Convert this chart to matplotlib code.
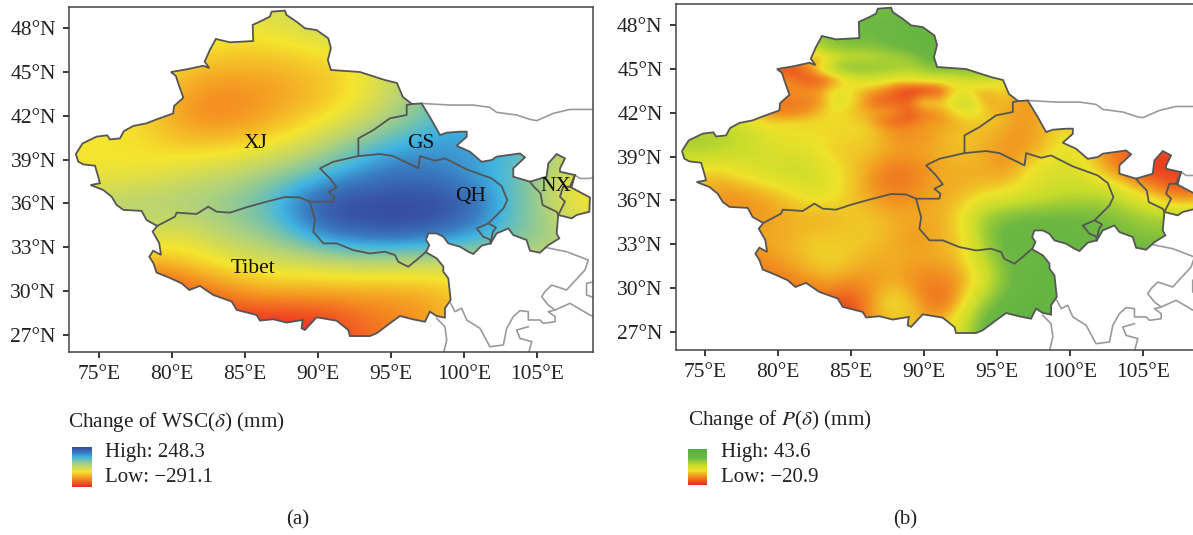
import numpy as np
import matplotlib
matplotlib.use('Agg')
import matplotlib.pyplot as plt
from matplotlib.colors import LinearSegmentedColormap, Normalize
from matplotlib.cm import ScalarMappable
from matplotlib.patches import Polygon

plt.rcParams['font.family'] = ['Liberation Serif', 'DejaVu Serif']
plt.rcParams['mathtext.fontset'] = 'stix'

W, H = 1193, 535

# Region outline, lon/lat, clockwise from the western tip
outer_lon = [73.42, 73.88, 74.84, 75.57, 75.75, 76.44, 76.71, 77.35, 78.26, 78.95, 80.09, 80.14, 80.66, 80.78, 80.43,
             80.27, 79.93, 81.0, 82.15, 82.56, 82.24, 82.6, 83.01, 83.97, 85.57, 85.53, 86.26, 86.71, 86.83, 87.74,
             87.85, 88.54, 89.11, 89.91, 90.71, 90.89, 90.68, 90.89, 92.88, 94.59, 95.41, 95.82, 96.44,
             97.1, 97.79, 98.36, 98.82, 99.73, 100.19, 100.19, 99.5, 100.41, 101.21, 101.9, 102.24, 103.84, 104.18,
             103.38, 103.38, 104.52, 105.66, 105.78, 106.35, 106.92, 106.58, 106.58, 107.6, 107.26, 108.63, 108.59,
             107.72, 107.38, 106.46, 106.35, 106.53, 105.78, 105.21, 104.52, 104.29, 103.38, 103.04, 102.24, 101.83,
             101.21, 100.64, 100.3, 99.73, 98.93, 98.59, 98.13, 97.56, 97.4, 97.63, 97.4,
             98.13, 98.59, 98.59, 98.93, 99.09, 98.7, 98.7, 98.13, 97.67, 97.33, 96.53, 95.62, 94.93, 94.02, 93.56,
             92.19, 92.08, 91.28, 89.91, 89.11, 88.88, 88.95, 87.85, 86.94, 86.03, 85.8, 84.43, 84.09, 82.83, 81.92,
             81.19, 80.66, 79.75, 78.95, 78.73, 78.45, 78.72, 79.25, 79.13, 78.68, 78.99,
             78.26, 77.92, 76.67, 76.21, 75.87, 75.3, 74.43, 75.07, 74.95, 74.73, 73.93, 73.58]
outer_lat = [39.38, 40.11, 40.57, 40.66, 40.38, 40.45, 40.95, 41.3, 41.48, 41.75, 42.16, 42.66, 43.12, 43.23, 44.22,
             44.72, 44.99, 45.17, 45.42, 45.26, 45.7, 46.5, 47.25, 47.02, 47.11, 48.21, 48.55, 48.78, 49.12, 49.19,
             48.89, 48.43, 47.98, 47.86, 47.29, 46.63, 45.81, 45.13, 44.99, 44.44, 44.24, 43.28, 42.8,
             42.84, 41.7, 40.68, 40.84, 40.91, 40.91, 40.56, 39.95, 39.54, 38.85, 38.97, 39.2, 39.42, 39.15,
             38.4, 37.83, 37.49, 37.83, 38.74, 39.38, 39.08, 38.4, 38.17, 37.94, 37.14, 36.41, 35.43,
             35.21, 34.98, 35.21, 33.95, 33.61, 33.15, 32.63, 32.77, 33.5, 33.84, 34.29, 33.95, 33.27,
             33.11, 32.54, 32.7, 33.04, 33.27, 33.72, 33.95, 33.95, 33.5, 33.15, 32.66,
             32.25, 31.68, 31.33, 30.88, 29.4, 28.83, 28.19, 28.3, 28.6, 27.91, 28.07, 28.3, 27.8, 27.12, 26.93,
             26.93, 27.34, 27.98, 28.21, 27.35, 27.46, 28.03, 27.85, 28.08, 27.99, 28.37, 28.72, 29.29, 29.74, 30.36,
             30.08, 30.54, 30.95, 31.27, 31.91, 32.36, 32.77, 32.48, 33.28, 34.07, 34.46,
             34.87, 35.49, 35.56, 35.9, 36.46, 36.92, 37.26, 37.38, 37.83, 38.58, 38.67, 38.86]

# Inner province borders
xj_tibet_lon = [78.99, 80.21, 80.32, 81.69, 82.49, 83.06, 83.97, 85.11, 86.26, 87.74, 88.77, 89.45]
xj_tibet_lat = [34.46, 35.1, 35.37, 35.28, 35.78, 35.44, 35.37, 35.74, 36.06, 36.44, 36.41, 36.12]
qh_north_lon = [89.45, 91.05, 91.12, 90.71, 91.28, 90.82, 90.14, 91.05, 92.77, 94.25, 95.16, 96.88, 96.99, 98.02, 98.7,
                100.19, 101.9, 102.58, 102.97, 102.7, 102.13, 101.67, 102.19, 101.97, 101.83]
qh_north_lat = [36.12, 36.12, 36.46, 36.8, 37.1, 37.71, 38.4, 38.85, 39.24, 39.38, 39.24, 38.4, 39.24, 38.92, 39.08,
                38.33, 37.71, 37.19, 36.23, 35.66, 35.09, 34.64, 34.36, 34.04, 33.27]
qh_south_lon = [97.4, 96.88, 96.19, 95.5, 95.28, 94.59, 93.56, 92.42, 91.28, 90.37, 89.68, 89.8, 89.45]
qh_south_lat = [32.7, 32.24, 31.67, 32.01, 32.47, 32.7, 32.58, 32.81, 33.27, 33.27, 34.07, 34.86, 36.12]
xj_gs_lon = [92.77, 92.77, 93.8, 94.93, 96.08, 96.08, 96.44]
xj_gs_lat = [39.24, 40.45, 41.02, 41.82, 42.05, 42.73, 42.8]
gs_inlet_lon = [101.67, 100.87, 101.33, 101.78, 101.83]
gs_inlet_lat = [34.64, 34.29, 33.72, 33.54, 33.27]
nx_west_lon = [104.52, 104.75, 105.25, 105.39, 106.35, 106.46]
nx_west_lat = [37.49, 37.19, 36.69, 35.89, 35.43, 35.21]
nx_east_lon = [106.46, 106.92, 106.58, 106.8, 107.38, 107.6]
nx_east_lat = [35.21, 36.12, 36.46, 37.14, 37.14, 37.94]

# Grey borders outside the region
grey_lons = [[97.1, 99.04, 100.64, 101.78, 102.24, 103.61, 104.52, 104.98, 106.12, 107.26, 109.2],
             [107.6, 107.95, 108.63, 109.2],
             [105.55, 107.03, 108.52, 108.29, 107.03, 106.01, 105.55, 105.32, 105.78, 106.24, 107.26, 108.63, 109.2],
             [99.09, 99.39, 99.84, 100.19, 101.1, 101.78, 102.7, 102.93, 103.38, 103.84, 104.41, 104.41, 105.21, 105.44,
              106.24, 106.24, 105.78, 106.24],
             [104.41, 103.61, 103.84, 104.64, 104.41],
             [98.13, 98.7, 98.82, 98.59],
             [109.2, 108.4, 108.4, 109.2]]
grey_lats = [[42.84, 42.73, 42.73, 42.57, 42.23, 42.05, 41.75, 41.66, 42.16, 42.43, 42.43],
             [37.94, 37.71, 37.71, 37.9],
             [33.0, 32.7, 32.13, 31.45, 30.08, 30.42, 29.97, 29.62, 29.05, 28.71, 29.17, 28.37, 28.1],
             [29.17, 28.6, 28.83, 28.03, 27.46, 26.2, 26.32, 27.46, 28.26, 28.67, 28.6, 28.03, 28.03, 27.8,
              27.91, 28.26, 28.6, 28.71],
             [27.57, 27.34, 26.77, 26.55, 25.7],
             [28.14, 27.57, 26.66, 25.7],
             [30.7, 30.54, 29.74, 29.45]]

# Field (a), 2 degree grid, on the legend's scale: 0 = Low, 10 = High
wsc_lons = [73, 75, 77, 79, 81, 83, 85, 87, 89, 91, 93, 95, 97, 99, 101, 103, 105, 107, 109]
wsc_lats = [50, 48, 46, 44, 42, 40, 38, 36, 34, 32, 30, 28, 26]
wsc_grid = [
    [4.5, 4.5, 4.5, 4.5, 4.5, 4.5, 4.5, 4.6, 4.8, 5, 5, 5, 5, 5, 5, 5, 5, 5, 5],
    [4.5, 4.5, 4.5, 4.5, 4.5, 4.2, 4.0, 4.3, 4.6, 5, 5, 5, 5, 5, 5, 5, 5, 5, 5],
    [4, 4, 4, 4, 3.6, 3.3, 3.2, 3.2, 3.4, 3.6, 4.2, 5, 5, 5, 5, 5, 5, 5, 5],
    [4, 4, 4, 3.5, 2.6, 2.2, 2.2, 2.4, 2.7, 3.2, 3.8, 4.8, 6, 6, 6, 6, 6, 6, 6],
    [4, 4, 3.8, 3, 2.2, 1.9, 2.1, 2.6, 3.1, 3.7, 4.5, 5.4, 6.4, 7.3, 7.3, 7, 6.5, 6, 6],
    [3.7, 3.7, 3.7, 3.5, 3.2, 3.2, 3.4, 3.9, 4.6, 5.5, 6.5, 7.4, 7.8, 8, 7.8, 7.5, 6.5, 5, 5],
    [4, 4, 4, 4.2, 4.6, 5, 5.4, 6, 6.6, 7.5, 8.3, 8.8, 8.8, 8.3, 7.7, 7, 6, 4.5, 4.2],
    [5, 5.2, 5.5, 5.6, 5.8, 6.0, 6.5, 7.5, 9, 10, 10, 10, 10, 10, 9, 7.2, 6, 4.0, 3.6],
    [5, 5, 5, 4.6, 4.5, 5.3, 5.8, 6.5, 7.8, 9, 9.5, 9.7, 9.5, 8.8, 8, 7, 6.2, 5.5, 5],
    [3, 3, 3, 3, 3.3, 3.8, 4.3, 4.6, 4.7, 5, 5.2, 5.2, 5, 5, 5, 5, 5, 5, 5],
    [0, 0, 0, 0.3, 1.2, 1.8, 2.4, 2.7, 2.7, 2.6, 2.6, 2.5, 2.6, 3, 3.5, 3.5, 3.5, 3.5, 3.5],
    [0, 0, 0, 0, 0, 0, 0.2, 0.1, 0.2, 0.6, 1.3, 1.8, 2.2, 3, 3, 3, 3, 3, 3],
    [0, 0, 0, 0, 0, 0, 0.2, 0.1, 0.2, 0.6, 1.3, 1.8, 2.2, 3, 3, 3, 3, 3, 3],
]

# Field (b), 1.5 degree grid, same kind of scale
prec_lons = [73, 74.5, 76, 77.5, 79, 80.5, 82, 83.5, 85, 86.5, 88, 89.5, 91, 92.5, 94, 95.5, 97, 98.5, 100, 101.5, 103,
             104.5, 106, 107.5, 109]
prec_lats = [50, 48.5, 47, 45.5, 44, 42.5, 41, 39.5, 38, 36.5, 35, 33.5, 32, 30.5, 29, 27.5, 26]
prec_grid = [
    [7, 7, 7, 7, 7, 7, 7, 7, 7, 7, 7, 7, 7, 7, 7, 7, 7, 7, 7, 7, 7, 7, 7, 7, 7],
    [7, 7, 7, 7, 7, 7, 7, 7, 7.5, 7.5, 7.5, 8, 8, 8, 8, 8, 8, 8, 8, 8, 8, 8, 8, 8, 8],
    [6, 6, 6, 6, 6, 6, 6, 7.5, 7.5, 7.5, 8, 8.5, 8.5, 8, 8, 8, 8, 8, 8, 8, 8, 8, 8, 8, 8],
    [3, 3, 3, 3, 3, 3, 3, 4.5, 6, 6, 6.5, 7, 7.5, 7.5, 7, 7, 7, 7, 7, 7, 7, 7, 7, 7, 7],
    [1, 1, 1, 1, 0.5, 0.5, 1, 1.5, 4, 3.5, 3, 3, 3, 4, 4, 3.5, 3, 3, 3, 3, 3, 3, 3, 3, 3],
    [3, 3, 3, 3, 2, 2, 2, 3, 4, 2.5, 2, 3, 3, 4, 3.5, 3, 2.5, 3, 3, 3, 3, 3, 3, 3, 3],
    [6, 6, 6, 5.5, 4.5, 4, 4, 4, 4, 3.5, 2, 2, 3, 3.5, 3.5, 3, 2.5, 3.5, 4, 3, 3, 3, 3, 3, 3],
    [6, 6.5, 6, 5.5, 5, 4.5, 4.5, 3.5, 3.5, 3.5, 3, 3, 3, 3.5, 3, 2.5, 2.5, 3.5, 4.5, 3, 1.5, 1, 0.5, 1, 1.5],
    [4, 3.5, 3.5, 4.5, 5, 5.5, 5.5, 4.5, 3.5, 2.5, 1.5, 2, 3, 3, 3, 2.5, 4, 5, 5, 4, 2.5, 1, 0, 0.5, 1],
    [3, 3, 2.5, 2.5, 3, 3.5, 4.5, 4.5, 3.5, 2.5, 2, 2.5, 3, 3, 3.5, 4, 4.5, 5, 5.5, 5.5, 5.5, 4, 3, 1, 2],
    [3, 3, 2.5, 2.5, 2.5, 3, 3, 3, 3.5, 3.5, 3, 3, 3, 4, 6.5, 7, 7.5, 7.5, 7.5, 7.5, 7, 6.5, 6, 6, 6],
    [3, 3, 3, 3, 3, 3, 3.5, 3.5, 3.5, 3.5, 3, 2.5, 3, 3.5, 6.5, 8, 8, 8, 8, 7.5, 7.5, 7, 7, 7, 7],
    [2, 2, 2, 2, 2.5, 3, 3.5, 4, 3.5, 3, 3, 3, 3, 3.5, 5.5, 7.5, 8, 8, 8, 8, 8, 8, 8, 8, 8],
    [1.5, 1.5, 1.5, 1.5, 1.5, 2, 2.5, 3, 2.5, 2.5, 3, 2, 2, 2.5, 4.5, 7, 8, 8, 8, 8, 8, 8, 8, 8, 8],
    [1, 1, 1, 1, 1, 1, 1.5, 1, 0.5, 3, 4.5, 3, 1, 3.5, 6.5, 8, 8.5, 8.5, 8.5, 8.5, 8.5, 8.5, 8.5, 8.5, 8.5],
    [1, 1, 1, 1, 1, 1, 1, 1, 0.5, 3, 3, 3.5, 3.5, 5, 8, 8.5, 8.5, 8.5, 8.5, 8.5, 8.5, 8.5, 8.5, 8.5, 8.5],
    [1, 1, 1, 1, 1, 1, 1, 1, 0.5, 3, 3, 3.5, 3.5, 5, 8, 8.5, 8.5, 8.5, 8.5, 8.5, 8.5, 8.5, 8.5, 8.5, 8.5],
]

# Finer readings of (b) over the Tien Shan streaks
shan_lons = [79, 80, 81, 82, 83, 84, 85, 86, 87, 88, 89, 90, 91, 92, 93, 94, 95, 96]
shan_lats = [46.5, 45.75, 45, 44.25, 43.5, 42.75, 42, 41.25, 40.5]
shan_grid = [
    [3, 3, 3, 5, 7.5, 6.5, 6, 6, 6.5, 7, 7.5, 8.5, 8.5, 8.5, 8, 8, 8, 8],
    [3, 3, 3, 3, 2.5, 5, 5.5, 5.5, 6, 6, 6.5, 7.5, 8, 8, 7.5, 7.5, 7.5, 7.5],
    [1, 0.5, 0.5, 2, 5, 7, 7, 7, 6.5, 6.5, 6, 6.5, 7, 7, 7, 7, 7, 7],
    [3, 3, 2, 1, 0.8, 2.5, 4.5, 5, 5, 4.5, 4.5, 5, 5, 5, 5.5, 5.5, 5, 4.5],
    [2, 2, 2.5, 2.5, 3, 4.5, 4, 3, 2.5, 1, 0, 0, 0.5, 3.5, 3.5, 3, 3.5, 4],
    [2, 2, 2, 2, 2.5, 5, 4, 2.5, 1, 1.5, 1.5, 4.5, 3.5, 5, 6, 3, 3, 3.5],
    [2, 2, 2, 2.5, 3.5, 4, 3.5, 3, 3, 2.5, 1, 2, 2.5, 3.5, 4.5, 4, 3, 3],
    [4, 4, 4, 4, 4, 4, 3.8, 3.5, 2, 1, 1.5, 2.5, 2.5, 3, 3.5, 3.5, 3.5, 3],
    [4.5, 4.5, 4.5, 4.5, 4, 3.5, 4, 4, 3.5, 3, 3, 3, 3, 3, 3, 3, 3, 2.5],
]

lon_ticks = [75, 80, 85, 90, 95, 100, 105]
lat_ticks = [27, 30, 33, 36, 39, 42, 45, 48]
province_names = ['XJ', 'GS', 'QH', 'NX', 'Tibet']
province_lons = [85.75, 97.05, 100.48, 106.3, 85.55]
province_lats = [40.07, 40.13, 36.5, 37.19, 31.52]

wsc_cmap = LinearSegmentedColormap.from_list('wsc', [
    (0.0, '#ee2424'), (0.2, '#f48a20'), (0.38, '#f5e52e'), (0.55, '#b2d27a'),
    (0.65, '#7cc4a6'), (0.75, '#3fb4e2'), (0.85, '#3a7fc2'), (1.0, '#37489c')])
prec_cmap = LinearSegmentedColormap.from_list('prec', [
    (0.0, '#e8291e'), (0.25, '#f29321'), (0.4, '#efe22a'), (0.55, '#c7dc2c'),
    (0.75, '#6db843'), (1.0, '#58ae3f')])


def axes_from_pixels(fig, left, top, right, bottom):
    return fig.add_axes([left / W, 1 - bottom / H, (right - left) / W, (bottom - top) / H])


def show_grid(ax, grid, lons, lats, cmap, alpha=None):
    dx = abs(lons[1] - lons[0]) / 2
    dy = abs(lats[1] - lats[0]) / 2
    return ax.imshow(grid, cmap=cmap, vmin=0, vmax=10, aspect='auto', interpolation='bicubic', origin='upper',
                     alpha=alpha, extent=(lons[0] - dx, lons[-1] + dx, lats[-1] - dy, lats[0] + dy))


def draw_map(fig, box, xlim, ylim, grid, lons, lats, cmap):
    ax = axes_from_pixels(fig, *box)
    im = show_grid(ax, grid, lons, lats, cmap)
    outline = Polygon(np.column_stack([outer_lon, outer_lat]), closed=True, facecolor='none',
                      edgecolor='#555555', linewidth=1.3, zorder=4)
    ax.add_patch(outline)
    im.set_clip_path(outline)

    for gx, gy in zip(grey_lons, grey_lats):
        ax.plot(gx, gy, color='#9a9a9a', lw=1.2, zorder=2)
    borders = [(xj_tibet_lon, xj_tibet_lat), (qh_north_lon, qh_north_lat), (qh_south_lon, qh_south_lat),
               (xj_gs_lon, xj_gs_lat), (gs_inlet_lon, gs_inlet_lat), (nx_west_lon, nx_west_lat),
               (nx_east_lon, nx_east_lat)]
    for bx, by in borders:
        ax.plot(bx, by, color='#555555', lw=1.3, zorder=4)

    ax.set_xlim(*xlim)
    ax.set_ylim(*ylim)
    ax.set_xticks(lon_ticks)
    ax.set_xticklabels([f'{v}°E' for v in lon_ticks])
    ax.set_yticks(lat_ticks)
    ax.set_yticklabels([f'{v}°N' for v in lat_ticks])
    ax.tick_params(length=4.5, width=1.1, labelsize=15.5, pad=5, labelcolor='#222222')
    for s in ax.spines.values():
        s.set_color('#444444')
        s.set_linewidth(1.1)
    return ax, outline


def draw_legend(fig, box, cmap, title, title_x, title_y, high, low, text_x, high_y, low_y):
    cax = axes_from_pixels(fig, *box)
    sm = ScalarMappable(norm=Normalize(0, 1), cmap=cmap)
    cb = fig.colorbar(sm, cax=cax)
    cb.set_ticks([])
    cb.outline.set_visible(False)
    fig.text(title_x / W, 1 - title_y / H, title, fontsize=15.3, va='center', color='#222222')
    fig.text(text_x / W, 1 - high_y / H, high, fontsize=15, va='center', color='#222222')
    fig.text(text_x / W, 1 - low_y / H, low, fontsize=15, va='center', color='#222222')


fig = plt.figure(figsize=(W / 100, H / 100), dpi=100)

ax_a, outline_a = draw_map(fig, (69, 6.5, 592.7, 352), (72.95, 108.82), (25.84, 49.47),
                           wsc_grid, wsc_lons, wsc_lats, wsc_cmap)
for name, x, y in zip(province_names, province_lons, province_lats):
    ax_a.text(x, y, name, fontsize=15.5, ha='center', va='center', color='#111111', zorder=5)

ax_b, outline_b = draw_map(fig, (675.7, 4, 1193, 349.7), (72.99, 108.42), (25.79, 49.44),
                           prec_grid, prec_lons, prec_lats, prec_cmap)
ax_b.spines['right'].set_visible(False)

# fade the finer patch out at its rim so it sits into the coarse field
shan_alpha = np.ones((len(shan_lats), len(shan_lons)))
shan_alpha[[0, -1], :] = 0
shan_alpha[:, [0, -1]] = 0
shan_im = show_grid(ax_b, shan_grid, shan_lons, shan_lats, prec_cmap, alpha=shan_alpha)
shan_im.set_clip_path(outline_b)
ax_b.set_xlim(72.99, 108.42)
ax_b.set_ylim(25.79, 49.44)

draw_legend(fig, (72, 447, 92, 487), wsc_cmap, r'Change of WSC($\delta$) (mm)', 68, 422,
            'High: 248.3', 'Low: −291.1', 105, 452, 478)
draw_legend(fig, (688, 449, 707, 485), prec_cmap, r'Change of $P$($\delta$) (mm)', 688, 420,
            'High: 43.6', 'Low: −20.9', 721, 453, 478)

fig.text(298 / W, 1 - 520 / H, '(a)', fontsize=15, ha='center', va='center', color='#222222')
fig.text(905 / W, 1 - 520 / H, '(b)', fontsize=15, ha='center', va='center', color='#222222')

fig.savefig('out.png', dpi=100)
